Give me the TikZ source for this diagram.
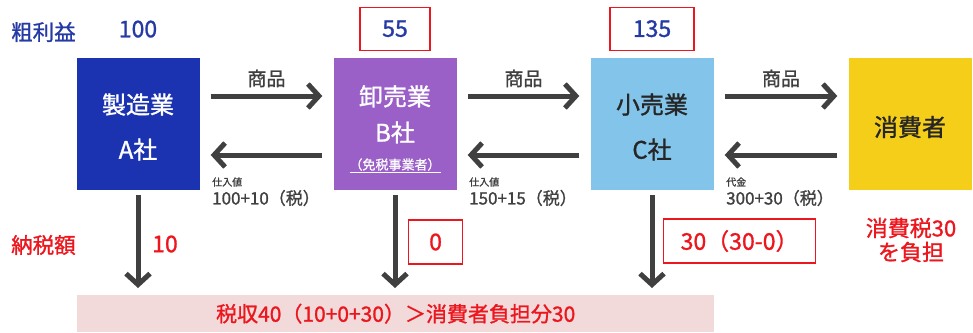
\documentclass[tikz,border=0pt]{standalone}
\usepackage{fontspec}
\setmainfont{Noto Sans CJK JP}[FakeBold=1.2]
\usetikzlibrary{arrows.meta,positioning}
\definecolor{mfgblue}{RGB}{27,51,176}
\definecolor{whlpurple}{RGB}{155,95,200}
\definecolor{rtlblue}{RGB}{130,196,234}
\definecolor{cnsyellow}{RGB}{245,206,26}
\definecolor{numblue}{RGB}{38,58,165}
\definecolor{taxred}{RGB}{236,22,30}
\definecolor{arrowgray}{RGB}{64,64,64}
\definecolor{barpink}{RGB}{242,218,218}
\tikzset {>={Straight Barb[length=11pt,width=24pt]}}

\begin{document}
\begin{tikzpicture}[x=1pt,y=-1pt,
  firm/.style={minimum width=123pt,minimum height=132pt,inner sep=0pt},
  firmtext/.style={align=center,inner sep=0pt,font=\fontsize{24}{45}\selectfont},
  flow/.style={->,line width=5pt,draw=arrowgray,shorten <=11pt,shorten >=11pt},
  goods/.style={text=arrowgray,font=\fontsize{19}{22}\selectfont},
  gp/.style={text=numblue,font=\fontsize{23}{26}\selectfont,minimum width=70pt,minimum height=43pt,inner sep=0pt},
  gpbox/.style={gp,draw=taxred,line width=1.2pt},
  tax/.style={text=taxred,font=\fontsize{23}{26}\selectfont,inner sep=0pt},
  taxbox/.style={tax,draw=taxred,line width=1.2pt,minimum height=44pt},
  tiny/.style={text=arrowgray,font=\fontsize{10}{12}\selectfont,inner sep=0pt,anchor=west},
  price/.style={text=arrowgray,font=\fontsize{17}{19}\selectfont,inner sep=0pt,anchor=west}]
\useasboundingbox (0,0) rectangle (973,332);
\node[firm,fill=mfgblue] (A) at (138,124) {};
\node[firm,fill=whlpurple] (B) at (395,124) {};
\node[firm,fill=rtlblue] (C) at (652,124) {};
\node[firm,fill=cnsyellow] (D) at (910,124) {};
\node[firmtext,text=white] (Atxt) at ([yshift=-3pt]A.center) {製造業\\A社};
\node[firmtext,text=white,font=\fontsize{24}{36}\selectfont] (Btxt) at ([yshift=-5pt]B.center) {卸売業\\B社\\[-8pt]{\fontsize{13}{15}\selectfont\underline{（免税事業者）}}};
\node[firmtext,text=black!85] (Ctxt) at ([yshift=-3pt]C.center) {小売業\\C社};
\node[firmtext,text=black!85] (Dtxt) at ([yshift=-3pt]D.center) {消費者};
\node[fill=barpink,minimum width=637pt,minimum height=37pt,anchor=north west,text=taxred,font=\fontsize{21}{24}\selectfont] (bar) at (77,295) {税収40（10+0+30）＞消費者負担分30};
\node[text=numblue,font=\fontsize{21.5}{24}\selectfont,anchor=west,inner sep=0pt] (gpT) at (11,32) {粗利益};
\node[gp,above=7pt of A] (gpA) {100};
\node[gpbox,above=7pt of B] (gpB) {55};
\node[gpbox,above=7pt of C,minimum width=84pt] (gpC) {135};
\node[text=taxred,font=\fontsize{21.5}{24}\selectfont,anchor=west,inner sep=0pt] (taxT) at (11,245) {納税額};
\draw[flow] ([yshift=28pt]A.east) -- node[goods,above=3pt] {商品} ([yshift=28pt]B.west);
\draw[flow] ([yshift=28pt]B.east) -- node[goods,above=3pt] {商品} ([yshift=28pt]C.west);
\draw[flow] ([yshift=28pt]C.east) -- node[goods,above=3pt] {商品} ([yshift=28pt]D.west);
\draw[flow] ([yshift=-31pt]B.west) -- ([yshift=-31pt]A.east);
\draw[flow] ([yshift=-31pt]C.west) -- ([yshift=-31pt]B.east);
\draw[flow] ([yshift=-31pt]D.west) -- ([yshift=-31pt]C.east);
\node[tiny] (cA) at (212,182) {仕入値};
\node[price] (pA) at (212,198) {100+10（税）};
\node[tiny] (cB) at (469,182) {仕入値};
\node[price] (pB) at (469,198) {150+15（税）};
\node[tiny] (cC) at (726,182) {代金};
\node[price] (pC) at (726,198) {300+30（税）};
\draw[flow,shorten <=5pt,shorten >=7pt] (A.south) -- (A.south |- bar.north);
\draw[flow,shorten <=5pt,shorten >=7pt] (B.south) -- (B.south |- bar.north);
\draw[flow,shorten <=5pt,shorten >=7pt] (C.south) -- (C.south |- bar.north);
\node[tax,anchor=west] (tA) at (152,244) {10};
\node[taxbox,anchor=west,minimum width=54pt] (tB) at (408,242) {0};
\node[taxbox,anchor=west,minimum width=152pt] (tC) at (663,241) {30（30-0）};
\node[text=taxred,font=\fontsize{22}{24}\selectfont,align=center,inner sep=0pt] (burden) at (911,240) {消費税30\\を負担};
\end{tikzpicture}
\end{document}
